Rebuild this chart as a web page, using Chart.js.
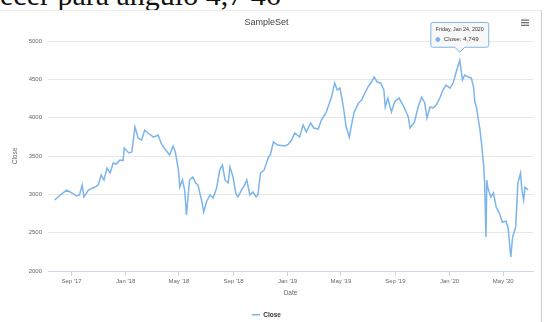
<!DOCTYPE html>
<html><head><meta charset="utf-8">
<script src="https://cdn.jsdelivr.net/npm/chart.js@4"></script>
<style>
html,body{margin:0;padding:0;background:#fff;width:546px;height:322px;overflow:hidden;}
#cap{position:absolute;left:0;top:-20px;font:30px/30px "Liberation Serif",serif;color:#111;white-space:nowrap;}
#frame{position:absolute;left:-1px;top:10px;width:542px;height:320px;border-top:1px solid #ececec;border-right:1px solid #cfcfcf;}
#wrap{position:absolute;left:0;top:0;width:546px;height:322px;}
</style></head><body>
<div id="cap">ecer para ângulo 4,7 46</div>
<div id="frame"></div>
<div id="wrap"><canvas id="c" width="546" height="322"></canvas></div>
<script>
const dates = [
'2017-07-25','2017-08-04','2017-08-21','2017-09-01','2017-09-12','2017-09-19','2017-09-25','2017-09-29','2017-10-09','2017-10-24',
'2017-10-31','2017-11-07','2017-11-13','2017-11-20','2017-11-27','2017-12-04','2017-12-11','2017-12-19','2017-12-26','2017-12-29',
'2018-01-08','2018-01-15','2018-01-22','2018-01-29','2018-02-06','2018-02-13','2018-02-20','2018-03-05','2018-03-15','2018-03-22',
'2018-03-29','2018-04-10','2018-04-18','2018-04-23','2018-04-30','2018-05-03','2018-05-09','2018-05-14','2018-05-18','2018-05-25',
'2018-06-01','2018-06-08','2018-06-13','2018-06-21','2018-06-26','2018-07-02','2018-07-10','2018-07-17','2018-07-25','2018-08-01',
'2018-08-07','2018-08-13','2018-08-20','2018-08-24','2018-08-31','2018-09-06','2018-09-11','2018-09-19','2018-09-26','2018-10-01',
'2018-10-08','2018-10-15','2018-10-22','2018-10-26','2018-11-01','2018-11-09','2018-11-19','2018-11-23','2018-11-30','2018-12-10',
'2018-12-26','2019-01-02','2019-01-10','2019-01-17','2019-01-28','2019-02-05','2019-02-12','2019-02-22','2019-03-01','2019-03-11',
'2019-03-18','2019-03-29','2019-04-10','2019-04-17','2019-04-23','2019-04-29','2019-05-06','2019-05-13','2019-05-20','2019-05-24',
'2019-05-31','2019-06-10','2019-06-17','2019-06-24','2019-07-01','2019-07-09','2019-07-15','2019-07-22','2019-07-30','2019-08-06',
'2019-08-09','2019-08-15','2019-08-23','2019-08-30','2019-09-09','2019-09-18','2019-09-30','2019-10-04','2019-10-14','2019-10-22',
'2019-10-30','2019-11-06','2019-11-11','2019-11-18','2019-11-25','2019-12-02','2019-12-10','2019-12-17','2019-12-24','2020-01-02',
'2020-01-09','2020-01-16','2020-01-24','2020-01-30','2020-02-04','2020-02-12','2020-02-19','2020-02-24','2020-02-27','2020-03-02',
'2020-03-05','2020-03-09','2020-03-13','2020-03-16','2020-03-18','2020-03-20','2020-03-23','2020-03-25','2020-03-27','2020-04-03',
'2020-04-09','2020-04-15','2020-04-22','2020-04-29','2020-05-07','2020-05-12','2020-05-18','2020-05-22','2020-05-29','2020-06-03',
'2020-06-09','2020-06-12','2020-06-16','2020-06-19','2020-06-26'
];
const closeValues = [
2926,2978,3056,3021,2978,2991,3121,2965,3056,3095,
3121,3252,3187,3343,3278,3408,3395,3447,3440,3604,
3539,3552,3878,3734,3708,3839,3800,3747,3773,3669,
3604,3513,3630,3552,3317,3095,3187,3056,2730,3187,
3226,3148,3121,2926,2769,2900,2991,2952,3082,3317,
3382,3187,3148,3356,3226,3017,2965,3056,3121,3187,
2991,3030,2965,2991,3278,3317,3487,3513,3682,3643,
3630,3650,3708,3800,3747,3904,3813,3930,3865,3852,
3969,4073,4269,4452,4360,4386,4165,3878,3747,3878,
4073,4191,4230,4321,4399,4465,4530,4465,4450,4360,
4139,4256,4073,4204,4256,4165,4008,3865,3943,4139,
4269,4191,3995,4139,4126,4165,4256,4360,4425,4386,
4452,4595,4749,4491,4556,4530,4517,4399,4204,4126,
3995,3865,3669,3480,3360,3150,2443,3187,3090,2965,
3017,2835,2756,2639,2650,2561,2183,2443,2574,3148,
3278,3056,2926,3095,3056
];
const xTickDates = ['2017-09-01','2018-01-01','2018-05-01','2018-09-01','2019-01-01','2019-05-01','2019-09-01','2020-01-01','2020-05-01'];
const xTickLabels = ["Sep '17","Jan '18","May '18","Sep '18","Jan '19","May '19","Sep '19","Jan '20","May '20"];
const yTickValues = [2000,2500,3000,3500,4000,4500,5000];
const xRange = ['2017-07-10','2020-07-07'];
const tooltipDate = '2020-01-24';

const FAM = '"Liberation Sans", Arial, sans-serif';
const ms = s => Date.parse(s + 'T00:00:00Z');
const points = dates.map((d, i) => ({x: ms(d), y: closeValues[i]}));

Chart.Tooltip.positioners.peak = function(items) {
  if (!items.length) return false;
  const e = items[0].element;
  return {x: e.x, y: e.y - 6};
};

const menuPlugin = {
  id: 'menu',
  afterDraw(chart) {
    const c = chart.ctx;
    c.save();
    c.fillStyle = '#666';
    for (let i = 0; i < 3; i++) c.fillRect(521, 19.5 + i * 2.6, 8, 1.2);
    c.restore();
  }
};

const chart = new Chart(document.getElementById('c'), {
  type: 'line',
  data: {datasets: [{
    label: 'Close', data: points,
    borderColor: '#7cb5ec', backgroundColor: '#7cb5ec',
    borderWidth: 1.5, pointRadius: 0, pointHoverRadius: 0, tension: 0, fill: false
  }]},
  options: {
    responsive: false, animation: false, events: [],
    devicePixelRatio: 1,
    layout: {padding: {left: 0, right: 13, top: 0, bottom: -6}},
    scales: {
      x: {
        type: 'linear', min: ms(xRange[0]), max: ms(xRange[1]),
        afterBuildTicks: s => { s.ticks = xTickDates.map(d => ({value: ms(d)})); },
        afterFit: s => { s.height = 30.5; },
        ticks: {autoSkip: false, maxRotation: 0, padding: 1.4, color: '#666', font: {size: 6, family: FAM},
          callback: (v, i) => xTickLabels[i]},
        grid: {drawOnChartArea: false, drawTicks: true, tickLength: 5, color: '#ccd6eb', tickColor: '#ccd6eb'},
        border: {display: true, color: '#ccd6eb', width: 1},
        title: {display: true, text: 'Date', color: '#666', font: {size: 6.5, family: FAM}, padding: {top: 0, bottom: 4.6}}
      },
      y: {
        min: 2000, max: 5000,
        afterBuildTicks: s => { s.ticks = yTickValues.map(v => ({value: v})); },
        afterFit: s => { s.width = 48; },
        ticks: {padding: 6, color: '#666', font: {size: 6, family: FAM}, callback: v => String(v)},
        grid: {color: '#e6e6e6', drawTicks: false, lineWidth: 1},
        border: {display: false},
        title: {display: true, text: 'Close', color: '#666', font: {size: 6.5, family: FAM}, padding: {top: 11.1, bottom: 0}}
      }
    },
    plugins: {
      title: {display: true, text: 'SampleSet', color: '#444', font: {size: 9, family: FAM, weight: 'normal'},
        padding: {top: 17.6, bottom: 12.6}},
      legend: {position: 'bottom', labels: {usePointStyle: true, pointStyle: 'line', pointStyleWidth: 8,
        color: '#333', font: {size: 6.5, weight: 'bold', family: FAM}, padding: 10}},
      tooltip: {
        enabled: true, position: 'peak', xAlign: 'center', yAlign: 'bottom',
        backgroundColor: 'rgba(247,247,247,0.92)', borderColor: '#7cb5ec', borderWidth: 1, cornerRadius: 2,
        caretSize: 5, caretPadding: 2, padding: {left: 5, right: 5, top: 4, bottom: 4},
        titleColor: '#333', bodyColor: '#333',
        titleFont: {size: 5.3, weight: 'normal', family: FAM}, bodyFont: {size: 6.2, family: FAM},
        titleMarginBottom: 3, displayColors: true, usePointStyle: true, boxWidth: 4, boxHeight: 4, boxPadding: 2,
        callbacks: {
          title: items => new Date(items[0].raw.x).toLocaleDateString('en-US',
            {weekday: 'long', month: 'short', day: 'numeric', year: 'numeric', timeZone: 'UTC'}),
          label: item => 'Close: ' + item.raw.y.toLocaleString('en-US'),
          labelPointStyle: () => ({pointStyle: 'circle', rotation: 0}),
          labelColor: () => ({borderColor: '#7cb5ec', backgroundColor: '#7cb5ec'})
        }
      }
    }
  },
  plugins: [menuPlugin]
});

const idx = dates.indexOf(tooltipDate);
const el = chart.getDatasetMeta(0).data[idx];
chart.tooltip.setActiveElements([{datasetIndex: 0, index: idx}], {x: el.x, y: el.y});
chart.update();
</script>
</body></html>
